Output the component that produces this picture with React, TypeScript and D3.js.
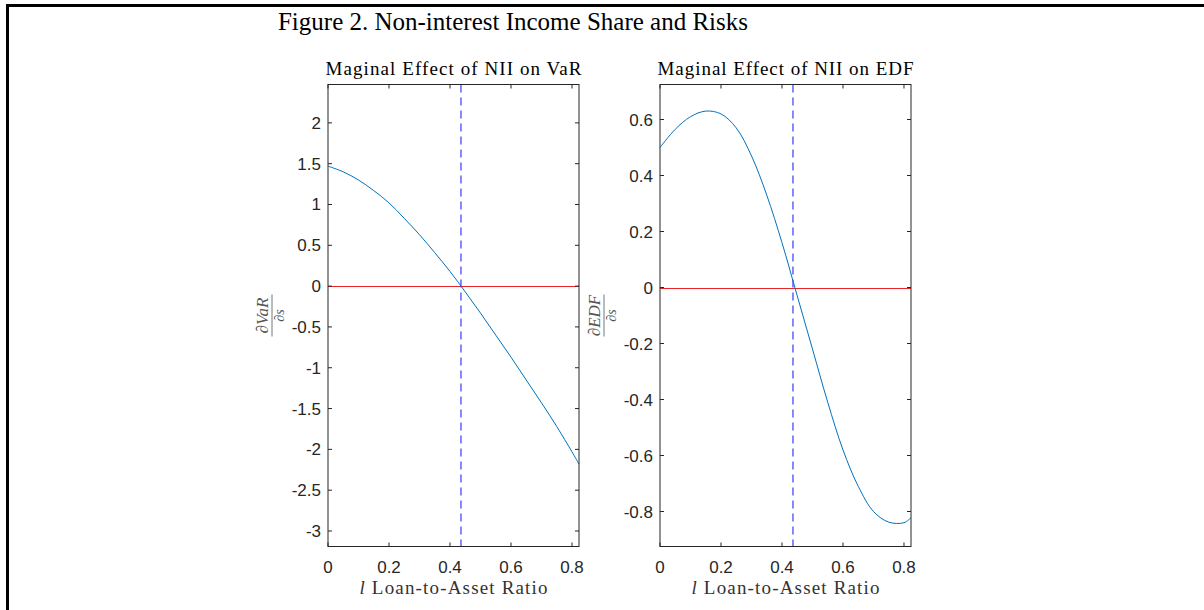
import React from "react";
import * as d3 from "d3";

const xTicks = [0, 0.2, 0.4, 0.6, 0.8];
const varTicks = [2, 1.5, 1, 0.5, 0, -0.5, -1, -1.5, -2, -2.5, -3];
const edfTicks = [0.6, 0.4, 0.2, 0, -0.2, -0.4, -0.6, -0.8];

const xs = [0, 0.05, 0.1, 0.15, 0.2, 0.25, 0.3, 0.35, 0.4, 0.45, 0.5, 0.55, 0.6, 0.65, 0.7, 0.75, 0.8, 0.823];
const varValues = [1.47, 1.4, 1.3, 1.17, 1.02, 0.83, 0.63, 0.41, 0.18, -0.07, -0.33, -0.6, -0.87, -1.15, -1.43, -1.72, -2.03, -2.18];
const edfValues = [0.5, 0.565, 0.61, 0.63, 0.62, 0.57, 0.47, 0.33, 0.16, -0.03, -0.22, -0.41, -0.58, -0.71, -0.8, -0.838, -0.84, -0.822];

const threshold = 0.436;
const xDomain = [0, 0.823];
const varDomain = [-3.19, 2.47];
const edfDomain = [-0.925, 0.725];

const tickFont = "'Liberation Sans', Arial, sans-serif";
const serif = "'Liberation Serif', 'Times New Roman', serif";
const axisColor = "#262626";

type PanelProps = {
  left: number;
  title: string;
  yTicks: number[];
  yDomain: number[];
  values: number[];
  num: string;
};

function Panel({ left, title, yTicks, yDomain, values, num }: PanelProps) {
  const top = 84.5;
  const bottom = 546.5;
  const width = 251;
  const right = left + width;
  const x = d3.scaleLinear().domain(xDomain).range([left, right]);
  const y = d3.scaleLinear().domain(yDomain).range([bottom, top]);
  const line = d3
    .line<number>()
    .x((_, i) => x(xs[i]))
    .y((d) => y(d))
    .curve(d3.curveCatmullRom);
  const tl = 4;
  const cy = (top + bottom) / 2;
  const lx = left - 56;
  const y0 = Math.round(y(0)) + 0.5;
  return (
    <g>
      <text x={(left + right) / 2} y={top - 10} textAnchor="middle" fontFamily={serif} fontSize={19} fill="#000" textLength={256} lengthAdjust="spacing">
        {title}
      </text>
      <line x1={left} x2={right} y1={y0} y2={y0} stroke="#e8262a" strokeWidth={1} />
      <line x1={x(threshold)} x2={x(threshold)} y1={top} y2={bottom} stroke="#3a3aff" strokeWidth={1.2} strokeDasharray="8,5" />
      <path d={line(values) || ""} fill="none" stroke="#0072BD" strokeWidth={1} />
      <rect x={left} y={top} width={width} height={bottom - top} fill="none" stroke={axisColor} strokeWidth={1} />
      {xTicks.map((t) => (
        <g key={"x" + t}>
          <line x1={x(t)} x2={x(t)} y1={bottom} y2={bottom - tl} stroke={axisColor} />
          <line x1={x(t)} x2={x(t)} y1={top} y2={top + tl} stroke={axisColor} />
          <text x={x(t)} y={bottom + 26} textAnchor="middle" fontFamily={tickFont} fontSize={17} fill={axisColor}>
            {String(t)}
          </text>
        </g>
      ))}
      {yTicks.map((t) => (
        <g key={"y" + t}>
          <line x1={left} x2={left + tl} y1={y(t)} y2={y(t)} stroke={axisColor} />
          <line x1={right} x2={right - tl} y1={y(t)} y2={y(t)} stroke={axisColor} />
          <text x={left - 7} y={y(t) + 6} textAnchor="end" fontFamily={tickFont} fontSize={17} fill={axisColor}>
            {String(t)}
          </text>
        </g>
      ))}
      <text x={(left + right) / 2} y={bottom + 47} textAnchor="middle" fontFamily={serif} fontSize={19} fill="#333" textLength={188} lengthAdjust="spacing">
        <tspan fontStyle="italic">l</tspan> Loan-to-Asset Ratio
      </text>
      <g transform={`translate(${lx},${cy}) rotate(-90)`}>
        <text x={0} y={-4} textAnchor="middle" fontFamily={serif} fontSize={17} fill="#555" fontStyle="italic">
          ∂{num}
        </text>
        <line x1={-21} x2={21} y1={0} y2={0} stroke="#666" strokeWidth={0.9} />
        <text x={0} y={12} textAnchor="middle" fontFamily={serif} fontSize={14} fill="#555" fontStyle="italic">
          ∂s
        </text>
      </g>
    </g>
  );
}

export default function App() {
  return (
    <div style={{ position: "absolute", left: 0, top: 0 }}>
      <svg width={1204} height={610} style={{ display: "block", background: "#fff" }}>
        <rect x={7.5} y={5.5} width={1250} height={700} fill="none" stroke="#000" strokeWidth={3} />
        <text x={513} y={30} textAnchor="middle" fontFamily={serif} fontSize={25} fill="#000">
          Figure 2. Non-interest Income Share and Risks
        </text>
        <Panel left={328} title="Maginal Effect of NII on VaR" yTicks={varTicks} yDomain={varDomain} values={varValues} num="VaR" />
        <Panel left={660} title="Maginal Effect of NII on EDF" yTicks={edfTicks} yDomain={edfDomain} values={edfValues} num="EDF" />
      </svg>
    </div>
  );
}
